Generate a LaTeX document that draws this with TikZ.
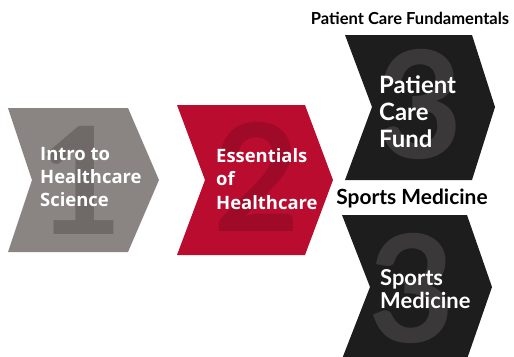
\documentclass[tikz,border=0pt]{standalone}
\usepackage{fontspec}
\setmainfont{Lato}
\newfontfamily\stepfont{Open Sans}
\usepackage{xcolor}
\usetikzlibrary{positioning}
\definecolor{introgray}{HTML}{8A8583}
\definecolor{introdigit}{HTML}{6F6A68}
\definecolor{essred}{HTML}{BA0C2F}
\definecolor{essdigit}{HTML}{9E0A27}
\definecolor{trackblack}{HTML}{1E1D1D}
\definecolor{trackdigit}{HTML}{3A3838}
\tikzset{
	digit/.style={font=\fontsize{150}{150}\selectfont\bfseries, inner sep=0pt},
	steptext/.style={text=white, align=left, anchor=west, inner sep=0pt, font=\stepfont\fontsize{18.5}{23.5}\selectfont\bfseries},
	tracktext/.style={text=white, align=left, anchor=west, inner sep=0pt, font=\fontsize{24}{27}\selectfont\bfseries},
	tracklabel/.style={text=black, inner sep=0pt, font=\bfseries}
}
\begin{document}
\begin{tikzpicture}[x=1bp,y=-1bp]
		\useasboundingbox (0,0) rectangle (514,356);
		\clip (0,0) rectangle (514,356);
		% chevrons
		\fill[introgray] (8,108) -- (128,108) -- (159,180) -- (128,252) -- (8,252) -- (32,180) -- cycle;
		\fill[essred] (177,105) -- (305,105) -- (333,180) -- (305,255) -- (177,255) -- (205,180) -- cycle;
		\fill[trackblack] (345,35) -- (472,35) -- (495,107) -- (472,180) -- (345,180) -- (372,107) -- cycle;
		\fill[trackblack] (342,215) -- (467,215) -- (492,287) -- (467,359) -- (342,359) -- (370,287) -- cycle;
		% big digits
		\node[digit,text=introdigit] (one) at (80,180) {1};
		\node[digit,text=essdigit] (two) at (257,177) {2};
		\node[digit,text=trackdigit] (three) at (420,104) {3};
		\node[digit,text=trackdigit] (threeb) at (412,288) {3};
		% texts
		\node[steptext] (intro) at (40,177) {Intro to\\Healthcare\\Science};
		\node[steptext] (ess) at (216,179) {Essentials\\of\\Healthcare};
		\node[tracktext] (pcf) at (379,112) {Patient\\Care\\Fund};
		\node[tracktext,font=\fontsize{22}{23}\selectfont\bfseries] (sm) at (380,289) {Sports\\Medicine};
		\node[tracklabel,font=\fontsize{16.6}{18}\selectfont\bfseries] (pcflabel) at (410,18) {Patient Care Fundamentals};
		\node[tracklabel,font=\fontsize{21}{22}\selectfont\bfseries] (smlabel) at (412,198) {Sports Medicine};
	\end{tikzpicture}
\end{document}
